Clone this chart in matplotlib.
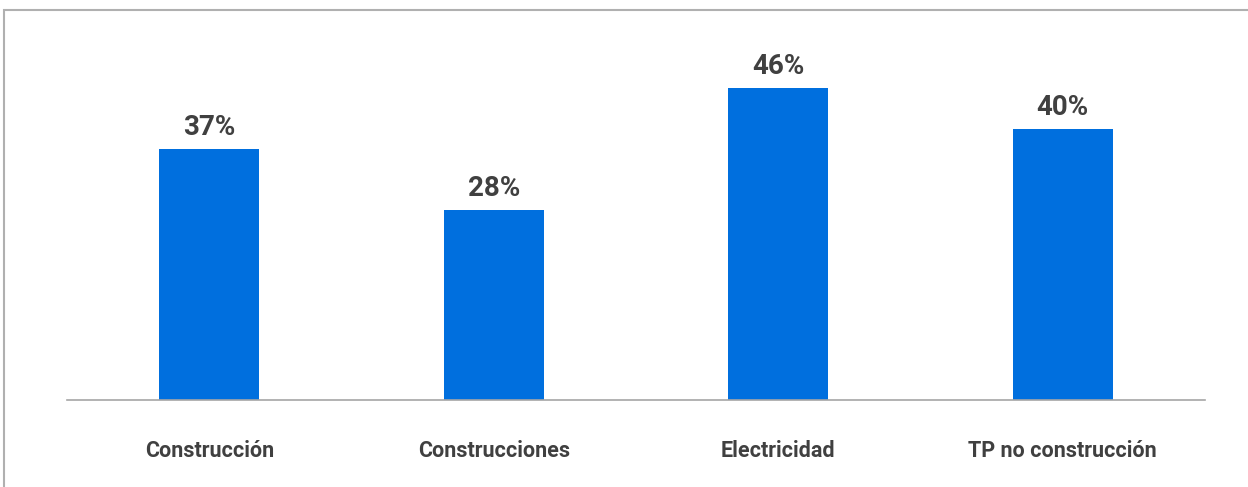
import matplotlib.pyplot as plt
from matplotlib.patches import Rectangle

plt.rcParams['font.family'] = ['Roboto', 'DejaVu Sans']

categorias = ["Construcción", "Construcciones", "Electricidad", "TP no construcción"]
valores = [37, 28, 46, 40]
etiquetas = ["37%", "28%", "46%", "40%"]

azul = "#006fde"
gris_texto = "#404040"

fig = plt.figure(figsize=(12.48, 4.87), dpi=100)
ax = fig.add_axes([67 / 1248, 1 - 400 / 487, 1138 / 1248, 355 / 487])

x = range(len(categorias))
barras = ax.bar(x, valores, width=0.35, color=azul)
for b, t in zip(barras, etiquetas):
    ax.annotate(t, (b.get_x() + b.get_width() / 2, b.get_height()),
                xytext=(0, 6), textcoords="offset points",
                ha="center", va="bottom", fontsize=20, fontweight="bold",
                color=gris_texto)

ax.set_xlim(-0.5, len(categorias) - 0.5)
ax.set_ylim(0, 52.4)
ax.set_xticks(list(x))
ax.set_xticklabels(categorias, fontsize=15.5, fontweight="bold", color=gris_texto)
ax.tick_params(axis="x", length=0, pad=29)
ax.set_yticks([])
for s in ["top", "right", "left"]:
    ax.spines[s].set_visible(False)
ax.spines["bottom"].set_color("#a6a6a6")
ax.spines["bottom"].set_linewidth(1.2)

# marco gris del gráfico
fig.patches.append(Rectangle((4 / 1248, -0.1), 1.1, 1 - 10 / 487 + 0.1,
                             transform=fig.transFigure, fill=False,
                             edgecolor="#b0b0b0", linewidth=1.5))

fig.savefig("out.png", dpi=100)
